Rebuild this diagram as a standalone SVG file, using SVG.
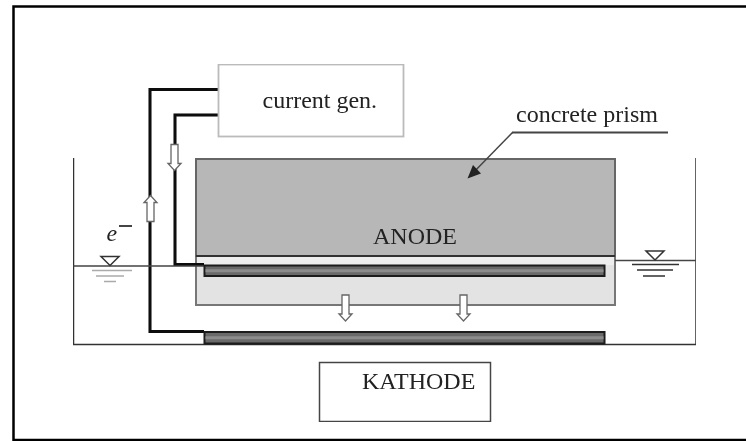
<svg xmlns="http://www.w3.org/2000/svg" width="746" height="441" viewBox="0 0 746 441">
<style>
text{font-family:"Liberation Serif","Times New Roman",serif;fill:#222}
.l{font-size:24px}
.w{fill:none;stroke:#0a0a0a;stroke-width:3}
.t{fill:none;stroke:#333;stroke-width:1.5}
.el{fill:#6a6a6a;stroke:#1a1a1a;stroke-width:2}
.band{stroke:#8c8c8c;stroke-width:3;fill:none}
</style>
<defs>
<filter id="soft" x="0" y="0" width="100%" height="100%" filterUnits="objectBoundingBox"><feGaussianBlur stdDeviation="0.4"/></filter>
<path id="down" d="M-3.500-13H3.500V6H6.500L0,13L-6.500,6H-3.500Z" fill="#fff" stroke="#666" stroke-width="1.300"/>
<path id="water" d="M-9,-9H9L0,0Z" fill="#fff" stroke="#333" stroke-width="1.500"/>
</defs>
<path id="frame" d="M746,6.500H13.500V440H746" fill="none" stroke="#000" stroke-width="2.500"/>
<g filter="url(#soft)">
<path id="tank" class="t" d="M73.500,158V344.500H696V158"/>
<g id="prism">
<rect x="196" y="159" width="419" height="146" fill="#e3e3e3" stroke="#777" stroke-width="2"/>
<rect x="196" y="159" width="419" height="97" fill="#b7b7b7" stroke="#666" stroke-width="2"/>
<path d="M196,256H615" stroke="#333" stroke-width="2"/>
<rect x="197" y="257" width="417" height="8" fill="#eee"/>
<text class="l" x="373" y="244">ANODE</text>
</g>
<g id="connectors">
<path class="w" d="M218,89.500H150V331.500H204"/>
<path class="w" d="M218,115H175V264.500H204"/>
<path d="M73.500,266H204M615,260.500H696" fill="none" stroke="#444" stroke-width="1.500"/>
<path d="M512.500,132.500L470,176" fill="none" stroke="#444" stroke-width="1.500"/>
<path d="M467.500,178.500L473,165L481,173.500Z" fill="#222"/>
<path d="M512,132.500H668" stroke="#444" stroke-width="2"/>
</g>
<g id="anode-bar"><rect x="204.500" y="265.500" width="400" height="10.500" class="el"/><path class="band" d="M205.500,270.700H603.500"/></g>
<g id="kathode-bar"><rect x="204.500" y="332" width="400" height="11.500" class="el"/><path class="band" d="M205.500,337.700H603.500"/></g>
<g id="current-gen">
<rect x="218.500" y="64.500" width="185" height="72" fill="#fff" stroke="#bbb" stroke-width="1.800"/>
<text class="l" x="262.500" y="108">current gen.</text>
</g>
<g id="kathode">
<rect x="319.500" y="362.500" width="171" height="59" fill="#fff" stroke="#444" stroke-width="1.500"/>
<text class="l" x="362" y="389">KATHODE</text>
</g>
<text id="concrete-label" class="l" x="516" y="122">concrete prism</text>
<g id="arrows">
<use href="#down" x="174.500" y="157.500"/>
<use href="#down" transform="translate(150.500,208.500) rotate(180)"/>
<use href="#down" x="345.500" y="308"/>
<use href="#down" x="463.500" y="308"/>
</g>
<g id="electron">
<text x="106.500" y="240.500" font-size="24" font-style="italic">e</text>
<path d="M119,226H132" stroke="#444" stroke-width="2"/>
</g>
<g id="water-left">
<use href="#water" x="110" y="265.500"/>
<path d="M92,270.500H132M96,276H124M104,281.500H116" stroke="#aaa" stroke-width="1.500"/>
</g>
<g id="water-right">
<use href="#water" x="655" y="260"/>
<path d="M632,264.500H679M637,270H673M643,276H665" stroke="#333" stroke-width="1.500"/>
</g>
</g>
</svg>
